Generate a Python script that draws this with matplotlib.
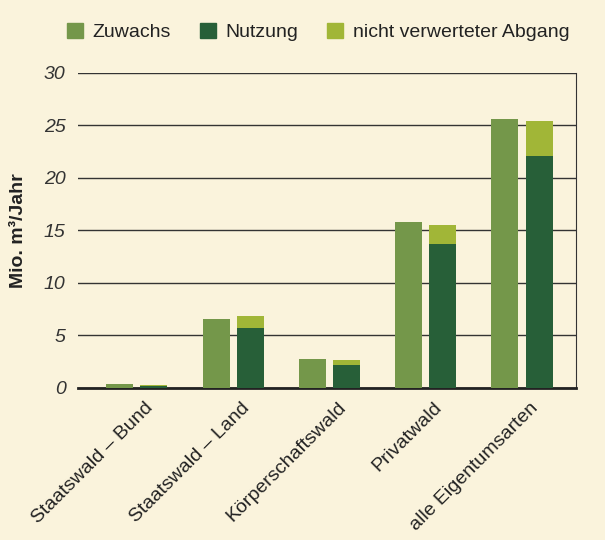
import matplotlib.pyplot as plt
import numpy as np
from matplotlib.patches import Patch

categories = ["Staatswald – Bund", "Staatswald – Land", "Körperschaftswald",
              "Privatwald", "alle Eigentumsarten"]
zuwachs = [0.4, 6.6, 2.8, 15.8, 25.6]
nutzung = [0.2, 5.7, 2.2, 13.7, 22.1]
abgang = [0.05, 1.2, 0.5, 1.8, 3.3]
yticks = [0, 5, 10, 15, 20, 25, 30]

bg = "#FAF3DC"
c_zuw = "#74974A"
c_nutz = "#275F38"
c_abg = "#A1B637"

plt.rcParams['font.family'] = ['Liberation Sans', 'DejaVu Sans']

fig = plt.figure(figsize=(6.05, 5.4), dpi=100, facecolor=bg)
ax = fig.add_axes([0.129, 0.2815, 0.823, 0.5835], facecolor=bg)

x = np.arange(len(categories))
w = 0.28
off = 0.177
ax.bar(x - off, zuwachs, w, color=c_zuw, zorder=3)
ax.bar(x + off, nutzung, w, color=c_nutz, zorder=3)
ax.bar(x + off, abgang, w, bottom=nutzung, color=c_abg, zorder=3)

ax.set_xlim(-0.61, 4.56)
ax.set_ylim(0, 30)
ax.set_yticks(yticks)
ax.set_yticklabels([str(t) for t in yticks], fontsize=14, style='italic', color="#333333")
ax.yaxis.grid(True, color="#333333", linewidth=1, zorder=0)
ax.tick_params(axis='y', length=0, pad=9)
ax.tick_params(axis='x', length=0, pad=8)

ax.set_xticks(x + 0.08)
ax.set_xticklabels(categories, rotation=45, ha='right', rotation_mode='anchor',
                   fontsize=14, color="#222222")

for s in ['top', 'left']:
    ax.spines[s].set_visible(False)
ax.spines['right'].set_color("#333333")
ax.spines['bottom'].set_color("#222222")
ax.spines['bottom'].set_linewidth(2)

ax.set_ylabel("Mio. m³/Jahr", fontsize=14, fontweight='bold', color="#222222", labelpad=12)

handles = [Patch(color=c_zuw), Patch(color=c_nutz), Patch(color=c_abg)]
fig.legend(handles, ["Zuwachs", "Nutzung", "nicht verwerteter Abgang"],
           loc='center', bbox_to_anchor=(0.526, 0.941), ncol=3, frameon=False,
           fontsize=14, handlelength=0.8, handleheight=0.8, handletextpad=0.5,
           columnspacing=1.5, labelcolor="#222222")

fig.savefig("out.png", dpi=100, facecolor=bg)
